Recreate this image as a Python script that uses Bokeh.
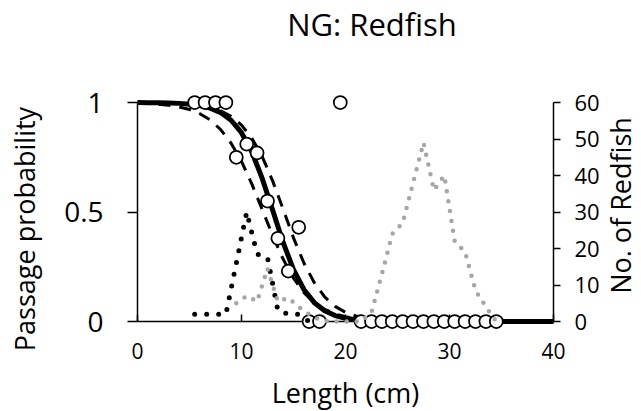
import math
from bokeh.plotting import figure
from bokeh.models import Range1d, LinearAxis, FixedTicker, NumeralTickFormatter
from bokeh.core.properties import value
from bokeh.embed import file_html
from bokeh.resources import INLINE

# ---- data ----
# fitted passage-probability curve and its confidence bounds
curve_len = [0, 1, 2, 3, 4, 5, 6, 7, 8, 9, 10, 11, 12, 13, 14, 15, 16, 17, 18, 19,
             20, 21, 22, 23, 24, 25, 26, 27, 40]
fit_p = [1.000, 0.999, 0.999, 0.998, 0.996, 0.992, 0.986, 0.974, 0.954, 0.919,
         0.862, 0.774, 0.652, 0.508, 0.361, 0.237, 0.146, 0.086, 0.049, 0.027,
         0.015, 0.008, 0.005, 0.003, 0.001, 0.001, 0.000, 0.000, 0.000]
upper_p = [0.999, 0.999, 0.998, 0.997, 0.995, 0.992, 0.986, 0.977, 0.962, 0.937,
           0.897, 0.837, 0.752, 0.641, 0.513, 0.382, 0.267, 0.177, 0.112, 0.069,
           0.042, 0.025, 0.015, 0.009, 0.005, 0.003, 0.002, 0.001, 0.000]
lower_p = [0.997, 0.995, 0.992, 0.987, 0.980, 0.968, 0.949, 0.920, 0.876, 0.814,
           0.731, 0.627, 0.510, 0.392, 0.285, 0.198, 0.132, 0.086, 0.055, 0.035,
           0.022, 0.014, 0.008, 0.005, 0.003, 0.002, 0.001, 0.000, 0.000]

# observed passage proportions (open circles)
obs_len = [5.5, 6.5, 7.5, 8.5, 9.5, 10.5, 11.5, 12.5, 13.5, 14.5, 15.5, 16.5, 17.5,
           19.5, 21.5, 22.5, 23.5, 24.5, 25.5, 26.5, 27.5, 28.5, 29.5, 30.5, 31.5,
           32.5, 33.5, 34.5]
obs_p = [1, 1, 1, 1, 0.75, 0.81, 0.77, 0.55, 0.38, 0.23, 0.43, 0, 0,
         1, 0, 0, 0, 0, 0, 0, 0, 0, 0, 0, 0, 0, 0, 0]

# length frequencies (right axis)
passed_len = [5.5, 6.5, 7.5, 8.5, 9.5, 10.5, 11.5, 12.5, 13.5, 14.5, 15.5, 16.5]
passed_n = [2, 2, 2, 2, 16, 30, 18.5, 17.5, 3, 2, 2, 0]
retained_len = [9.5, 10.5, 11.5, 12.5, 13.5, 14.5, 15.5, 16.5, 17.5, 18.5, 19.5,
                20.5, 21.5, 22.5, 23.5, 24.5, 25.5, 26.5, 27.5, 28.5, 29.5, 30.5,
                31.5, 32.5, 33.5, 34.5]
retained_n = [5, 7, 5.5, 14.5, 5.5, 6.5, 4, 2, 0.5, 0, 0, 0, 0, 2.5, 13, 24, 27,
              38, 49, 36, 40, 22, 19, 8.5, 4, 0]

x_ticks = [0, 10, 20, 30, 40]
p_ticks = [0, 0.5, 1]
n_ticks = [0, 10, 20, 30, 40, 50, 60]

FONT = "Open Sans"

p = figure(width=641, height=411, x_range=Range1d(0, 40), y_range=Range1d(0, 1),
           output_backend="svg", toolbar_location=None,
           min_border_left=137, min_border_right=88, min_border_top=102,
           min_border_bottom=90, background_fill_color="white",
           border_fill_color="white", outline_line_color=None)
p.grid.visible = False
p.extra_y_ranges = {"n": Range1d(0, 60)}

# axes
xa = p.xaxis[0]
xa.ticker = FixedTicker(ticks=x_ticks)
xa.major_tick_in = 7
xa.major_tick_out = 0
xa.minor_tick_line_color = None
xa.major_label_standoff = 21

ya = p.yaxis[0]
ya.ticker = FixedTicker(ticks=p_ticks)
ya.formatter = NumeralTickFormatter(format="0.[0]")
ya.major_tick_in = 0
ya.major_tick_out = 10
ya.minor_tick_line_color = None
ya.major_label_standoff = 24

ra = LinearAxis(y_range_name="n", ticker=FixedTicker(ticks=n_ticks))
ra.major_tick_in = 0
ra.major_tick_out = 7
ra.minor_tick_line_color = None
ra.major_label_standoff = 14
p.add_layout(ra, "right")

for ax, fs in ((xa, "21px"), (ya, "28px"), (ra, "22px")):
    ax.axis_line_width = 1.5
    ax.major_tick_line_width = 1.5
    ax.axis_line_color = "black"
    ax.major_tick_line_color = "black"
    ax.major_label_text_font = FONT
    ax.major_label_text_font_size = fs
    ax.major_label_text_color = "black"

# fitted curve and bounds
p.line(curve_len, lower_p, line_color="black", line_width=3, line_dash="12 9",
       level="overlay")
p.line(curve_len, upper_p, line_color="black", line_width=3, line_dash="12 9",
       level="overlay")
p.line(curve_len, fit_p, line_color="black", line_width=5, level="overlay")

# observed proportions
p.scatter(obs_len, obs_p, marker="circle", size=13, fill_color="white",
          line_color="black", line_width=1.75, level="overlay")

# length frequencies
p.line(passed_len, passed_n, y_range_name="n", line_color="black", line_width=5,
       line_dash="0 12", line_cap="round", level="overlay")
p.line(retained_len, retained_n, y_range_name="n", line_color="#A6A6A6",
       line_width=4.5, line_dash="0 10", line_cap="round", level="overlay")

# texts (title and axis titles)
def add_text(x, y, txt, size, dx, dy, angle=0.0):
    p.text(x=[x], y=[y], text=[txt], x_offset=dx, y_offset=dy, angle=angle,
           text_font=value(FONT), text_font_size=value(size),
           text_color="black", text_align="center",
           text_baseline="alphabetic", level="overlay")

add_text(20, 1, "NG: Redfish", "31px", 26.5, -79)
add_text(0, 0.5, "Passage probability", "27px", -113, 17, math.pi / 2)
add_text(40, 0.5, "No. of Redfish", "27px", 67, -6.5, math.pi / 2)
add_text(20, 0, "Length (cm)", "27px", 0, 70.5)

open("out.html", "w").write(file_html(p, INLINE))
